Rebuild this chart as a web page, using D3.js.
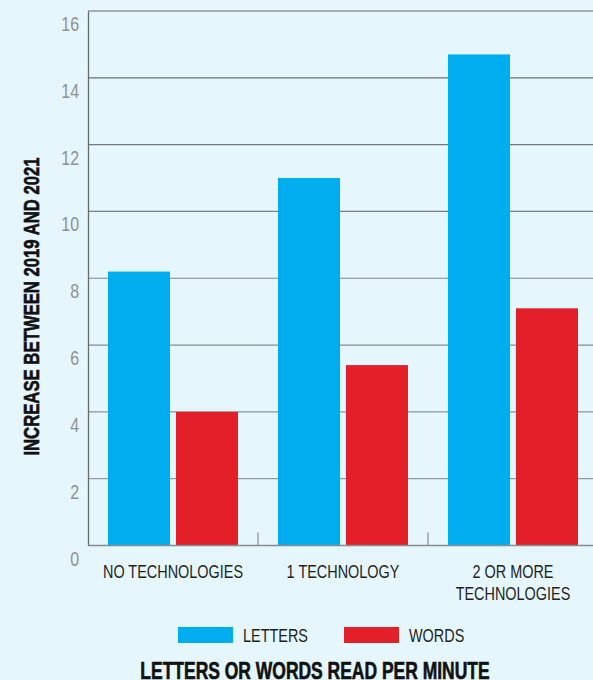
<!DOCTYPE html>
<html>
<head>
<meta charset="utf-8">
<script src="https://cdn.jsdelivr.net/npm/d3@7"></script>
<style>
  html, body { margin: 0; padding: 0; background: #e6f6fd; }
  svg { display: block; }
  text { font-family: "Liberation Sans", Arial, sans-serif; }
</style>
</head>
<body>
<div id="chart"></div>
<script>
// Chart data
const categories = ["NO TECHNOLOGIES", "1 TECHNOLOGY", "2 OR MORE TECHNOLOGIES"];
const series = ["LETTERS", "WORDS"];
const letters = [8.2, 11.0, 14.7];
const words = [4.0, 5.4, 7.1];
const yTicks = [0, 2, 4, 6, 8, 10, 12, 14, 16];
const colors = ["#00aeef", "#e3202a"];

const width = 593;
const height = 680;
const margin = { top: 11, right: -5, bottom: 134.5, left: 88 };
const narrow = 0.76; // no condensed font installed, squeeze horizontally

const svg = d3.select("#chart")
    .append("svg")
    .attr("width", width)
    .attr("height", height);

// squeeze a text around its own x,y
function condense(sel, f) {
    sel.each(function() {
        const t = d3.select(this);
        const x = +t.attr("x") || 0, yy = +t.attr("y") || 0;
        t.attr("transform", "translate(" + x + "," + yy + ") scale(" + f + ",1) translate(" + (-x) + "," + (-yy) + ")");
    });
}

const x0 = d3.scaleBand()
    .domain(categories)
    .range([margin.left, width - margin.right])
    .padding(0);

const x1 = d3.scaleBand()
    .domain(series)
    .range([20, 150])
    .paddingInner(0.088)
    .paddingOuter(0);

const y = d3.scaleLinear()
    .domain([0, 16])
    .range([height - margin.bottom, margin.top]);

// gridlines
svg.append("g")
    .selectAll("line")
    .data(yTicks.filter(d => d > 0))
    .enter()
    .append("line")
    .attr("x1", margin.left)
    .attr("x2", width)
    .attr("y1", d => y(d))
    .attr("y2", d => y(d))
    .attr("stroke", d => d3.interpolateRgb("#9aa2a7", "#666a6c")(d / 16))
    .attr("stroke-width", 1.2);

// bars
const rows = categories.map((c, i) => ({ cat: c, values: [letters[i], words[i]] }));

svg.append("g")
    .selectAll("g")
    .data(rows)
    .enter()
    .append("g")
    .attr("transform", d => "translate(" + x0(d.cat) + ",0)")
    .selectAll("rect")
    .data(d => d.values.map((v, j) => ({ key: series[j], value: v, j: j })))
    .enter()
    .append("rect")
    .attr("x", d => x1(d.key))
    .attr("y", d => y(d.value))
    .attr("width", x1.bandwidth())
    .attr("height", d => y(0) - y(d.value))
    .attr("fill", d => colors[d.j]);

// y axis
const yAxis = svg.append("g")
    .attr("transform", "translate(" + margin.left + ",0)")
    .call(d3.axisLeft(y).tickValues(yTicks).tickSize(0).tickPadding(9));
yAxis.select(".domain").attr("stroke", "#6b6b6b").attr("stroke-width", 1.3);
yAxis.selectAll("text")
    .attr("fill", "#8f9092")
    .attr("font-size", 21)
    .attr("dy", "0.93em")
    .style("font-family", null)
    .call(condense, narrow);

// x axis baseline and separators
svg.append("line")
    .attr("x1", margin.left)
    .attr("x2", width)
    .attr("y1", y(0))
    .attr("y2", y(0))
    .attr("stroke", "#868d91")
    .attr("stroke-width", 1.3);

svg.append("g")
    .selectAll("line")
    .data(categories.slice(1))
    .enter()
    .append("line")
    .attr("x1", d => x0(d))
    .attr("x2", d => x0(d))
    .attr("y1", y(0))
    .attr("y2", y(0) - 13)
    .attr("stroke", "#868d91")
    .attr("stroke-width", 1.2);

// category labels
const catLines = {
    "NO TECHNOLOGIES": ["NO TECHNOLOGIES"],
    "1 TECHNOLOGY": ["1 TECHNOLOGY"],
    "2 OR MORE TECHNOLOGIES": ["2 OR MORE", "TECHNOLOGIES"]
};
svg.append("g")
    .selectAll("text")
    .data(categories)
    .enter()
    .append("text")
    .attr("x", d => x0(d) + 85)
    .attr("y", y(0) + 32.5)
    .attr("text-anchor", "middle")
    .attr("font-size", 19)
    .attr("fill", "#231f20")
    .each(function(d) {
        const t = d3.select(this);
        catLines[d].forEach((line, i) => {
            t.append("tspan")
                .attr("x", x0(d) + 85)
                .attr("dy", i === 0 ? 0 : 22)
                .text(line);
        });
    })
    .call(condense, narrow);

// legend
const legend = svg.append("g")
    .selectAll("g")
    .data(series)
    .enter()
    .append("g")
    .attr("transform", (d, i) => "translate(" + (178 + i * 166) + ",627)");

legend.append("rect")
    .attr("width", 55)
    .attr("height", 16)
    .attr("fill", (d, i) => colors[i]);

legend.append("text")
    .attr("x", 65)
    .attr("y", 15)
    .attr("font-size", 19)
    .attr("fill", "#231f20")
    .text(d => d)
    .call(condense, narrow);

// axis titles
svg.append("text")
    .attr("x", 0)
    .attr("y", 0)
    .attr("transform", "translate(38.5,306.5) rotate(-90) scale(" + narrow + ",1)")
    .attr("text-anchor", "middle")
    .attr("font-size", 22)
    .attr("font-weight", "bold")
    .attr("fill", "#111")
    .attr("stroke", "#111")
    .attr("stroke-width", 0.6)
    .text("INCREASE BETWEEN 2019 AND 2021");

svg.append("text")
    .attr("x", 315)
    .attr("y", 679)
    .attr("text-anchor", "middle")
    .attr("font-size", 23)
    .attr("font-weight", "bold")
    .attr("fill", "#111")
    .attr("stroke", "#111")
    .attr("stroke-width", 0.6)
    .text("LETTERS OR WORDS READ PER MINUTE")
    .call(condense, narrow);
</script>
</body>
</html>
